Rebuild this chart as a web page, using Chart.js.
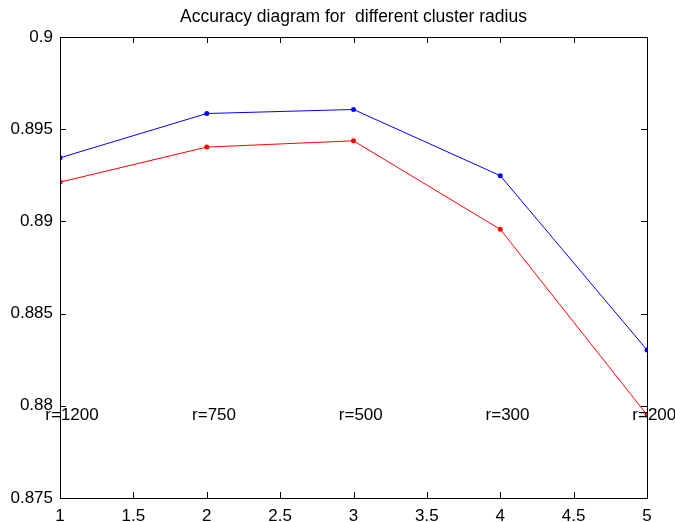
<!DOCTYPE html>
<html>
<head>
<meta charset="utf-8">
<script src="https://cdn.jsdelivr.net/npm/chart.js@4"></script>
<style>
  html, body { margin: 0; padding: 0; background: #fff; }
  #wrap { width: 675px; height: 522px; }
</style>
</head>
<body>
<div id="wrap"><canvas id="grafico" width="675" height="522"></canvas></div>
<script>
const xValores = [1, 2, 3, 4, 5];
const serieAzul = [0.89345, 0.89585, 0.89607, 0.89248, 0.88303];
const serieVermelha = [0.89213, 0.89403, 0.89437, 0.88957, 0.87951];
const rotulosRaio = ['r=1200', 'r=750', 'r=500', 'r=300', 'r=200'];
const rotuloY = 0.8795;
const xTicks = [1, 1.5, 2, 2.5, 3, 3.5, 4, 4.5, 5];
const yTicks = [0.875, 0.88, 0.885, 0.89, 0.895, 0.9];
const titulo = 'Accuracy diagram for  different cluster radius';

const fonte = 'Liberation Sans, Arial, Helvetica, sans-serif';

// caixa, ticks para dentro, titulo e rotulos de texto (estilo MATLAB)
const estiloMatlab = {
    id: 'estiloMatlab',
    afterDraw(chart) {
        const ctx = chart.ctx;
        const a = chart.chartArea;
        const sx = chart.scales.x;
        const sy = chart.scales.y;
        ctx.save();
        ctx.strokeStyle = '#000';
        ctx.lineWidth = 1;
        ctx.strokeRect(Math.round(a.left) + 0.5, Math.round(a.top) + 0.5,
            Math.round(a.right - a.left), Math.round(a.bottom - a.top));
        ctx.beginPath();
        xTicks.forEach(v => {
            const px = Math.round(sx.getPixelForValue(v)) + 0.5;
            ctx.moveTo(px, a.bottom); ctx.lineTo(px, a.bottom - 6);
            ctx.moveTo(px, a.top); ctx.lineTo(px, a.top + 6);
        });
        yTicks.forEach(v => {
            const py = Math.round(sy.getPixelForValue(v)) + 0.5;
            ctx.moveTo(a.left, py); ctx.lineTo(a.left + 6, py);
            ctx.moveTo(a.right, py); ctx.lineTo(a.right - 6, py);
        });
        ctx.stroke();

        ctx.fillStyle = '#000';
        ctx.font = '17.5px ' + fonte;
        ctx.textAlign = 'center';
        ctx.textBaseline = 'middle';
        ctx.fillText(titulo, (a.left + a.right) / 2, 17);

        ctx.font = '17px ' + fonte;
        ctx.textAlign = 'left';
        rotulosRaio.forEach((t, i) => {
            ctx.fillText(t, sx.getPixelForValue(xValores[i] - 0.1), sy.getPixelForValue(rotuloY));
        });
        ctx.restore();
    }
};

function desenharGrafico() {
    new Chart(document.getElementById('grafico'), {
        type: 'line',
        data: {
            datasets: [{
                data: xValores.map((x, i) => ({ x: x, y: serieAzul[i] })),
                borderColor: '#0000ff',
                backgroundColor: '#0000ff',
                borderWidth: 1,
                pointRadius: 2.5,
                pointBorderWidth: 0,
                tension: 0
            }, {
                data: xValores.map((x, i) => ({ x: x, y: serieVermelha[i] })),
                borderColor: '#ff0000',
                backgroundColor: '#ff0000',
                borderWidth: 1,
                pointRadius: 2.5,
                pointBorderWidth: 0,
                tension: 0
            }]
        },
        options: {
            responsive: false,
            animation: false,
            layout: { padding: { top: 37, right: 28, left: 0, bottom: 0 } },
            plugins: { legend: { display: false }, tooltip: { enabled: false }, title: { display: false } },
            scales: {
                x: {
                    type: 'linear',
                    min: 1,
                    max: 5,
                    afterBuildTicks: s => { s.ticks = xTicks.map(v => ({ value: v })); },
                    afterFit: s => { s.height = 24; },
                    grid: { display: false, drawTicks: false },
                    border: { display: false },
                    ticks: { color: '#000', font: { family: fonte, size: 17 }, padding: 8, maxRotation: 0, autoSkip: false,
                        callback: v => String(v) }
                },
                y: {
                    type: 'linear',
                    min: 0.875,
                    max: 0.9,
                    afterBuildTicks: s => { s.ticks = yTicks.map(v => ({ value: v })); },
                    afterFit: s => { s.width = 60; },
                    grid: { display: false, drawTicks: false },
                    border: { display: false },
                    ticks: { color: '#000', font: { family: fonte, size: 17 }, padding: 7, autoSkip: false,
                        callback: v => String(Number(v.toFixed(3))) }
                }
            }
        },
        plugins: [estiloMatlab]
    });
}

document.addEventListener('DOMContentLoaded', desenharGrafico);
</script>
</body>
</html>
